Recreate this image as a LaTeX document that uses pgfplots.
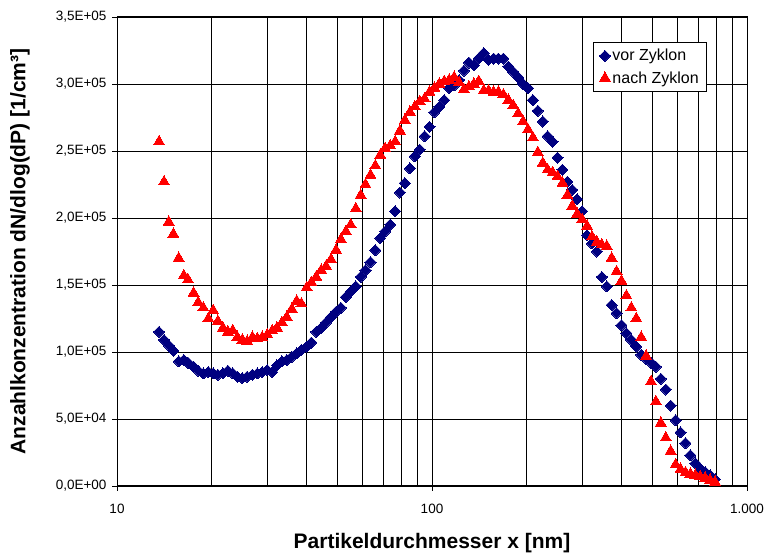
\documentclass[border=0pt]{standalone}
\usepackage{fontspec}
\setmainfont{Liberation Sans}
\usepackage{pgfplots}
\usepackage{pgfplotstable}
\pgfplotsset{compat=1.18}
\definecolor{vorc}{RGB}{0,0,128}
\definecolor{nachc}{RGB}{255,0,0}
\pgfplotstableread{
x vor nach
13.6 115000 257000
14.1 109000 227000
14.6 105000 197000
15.1 101000 188000
15.7 93000 170000
16.3 94000 157000
16.8 92000 154000
17.5 89000 144000
18.1 86000 137000
18.8 84000 133000
19.5 85000 125000
20.2 84000 131000
20.9 83000 123000
21.7 84000 118000
22.5 86000 115000
23.3 84000 116000
24.1 81500 111000
25.0 80500 109000
25.9 81500 108000
26.9 83000 111000
27.9 84000 110000
28.9 85000 111000
30.0 86500 113000
31.1 85000 116000
32.2 90000 118000
33.4 93000 122000
34.6 94000 126000
35.9 96500 132000
37.2 99000 138000
38.5 101500 136000
40.0 104000 148000
41.4 107000 152000
42.9 115000 156000
44.5 118000 161000
46.1 122000 164000
47.8 126000 169000
49.6 130000 176000
51.4 133000 184000
53.3 141000 190000
55.2 145000 195000
57.3 149000 207000
59.4 156000 217000
61.5 161000 225000
63.8 167000 232000
66.1 176000 239000
68.5 185000 247000
71.0 190000 252000
73.7 195000 254000
76.4 205000 257000
79.1 219000 265000
82.0 226000 273000
85.1 237000 279000
88.2 246000 283000
91.4 251000 287000
94.7 261000 289000
98.2 268000 294000
101.8 279000 297000
105.5 283000 300000
109.4 288000 302000
113.4 297000 303000
117.6 299000 305000
121.9 303000 301000
126.3 310000 296000
131.0 316000 298000
135.8 314000 300000
140.7 319000 302000
145.9 323000 295000
151.2 318000 295000
156.8 319000 294000
162.5 319000 294000
168.5 319000 292000
174.7 313000 288000
181.1 309000 284000
187.7 305000 278000
194.6 300000 272000
201.7 297000 266000
209.1 288000 260000
216.7 280000 249000
224.7 272000 241000
232.9 261000 236000
241.4 257000 234000
250.3 245000 231000
259.5 236000 226000
269.0 227000 217000
278.8 221000 209000
289.0 214000 203000
299.6 205000 199000
310.6 187000 194000
322.0 181000 186000
333.8 175000 182000
346.0 156000 180000
358.7 149000 179000
371.8 135000 170000
385.4 129000 160000
399.5 120000 153000
414.2 114000 142000
429.4 109000 133000
445.1 104000 125000
461.4 98000 111000
478.3 95000 97000
495.8 92000 78000
514.0 89000 63000
532.8 80000 47000
552.3 72000 36000
572.5 60000 26000
593.5 49000 16000
615.3 40000 12500
637.8 32000 10000
661.2 23000 9000
685.4 17000 8000
710.5 13000 7000
736.5 10500 6000
763.5 8000 4500
791.5 5000 3000
}\datatable
\begin{document}
\begin{tikzpicture}[x=1pt,y=1pt]
\path[use as bounding box] (-117,-70) rectangle (651,486);
\begin{semilogxaxis}[
 at={(0,0)}, anchor=south west,
 scale only axis, width=630pt, height=469pt,
 xmin=10, xmax=1000, ymin=0, ymax=350000,
 xtick={10,100,1000}, xticklabels={10,100,1.000},
 minor xtick={20,30,40,50,60,70,80,90,200,300,400,500,600,700,800,900},
 ytick={0,50000,100000,150000,200000,250000,300000,350000},
 yticklabels={{0,0E+00},{5,0E+04},{1,0E+05},{1,5E+05},{2,0E+05},{2,5E+05},{3,0E+05},{3,5E+05}},
 scaled y ticks=false,
 tick pos=left, tick align=outside, major tick length=5pt, minor tick length=0pt,
 xmajorgrids, xminorgrids, ymajorgrids,
 grid style={black, line width=0.8pt},
 minor grid style={black, line width=0.8pt},
 axis line style={black, line width=1pt},
 tick style={black, line width=0.8pt},
 ticklabel style={font=\fontsize{13.5}{15}\selectfont},
 yticklabel style={xshift=-2pt},
 xticklabel style={yshift=-10pt},
 xlabel={Partikeldurchmesser x [nm]},
 ylabel={Anzahlkonzentration dN/dlog(dP) [1/cm³]},
 label style={font=\bfseries\fontsize{21}{24}\selectfont},
 xlabel style={at={(axis description cs:0.5,-0.1215)}, anchor=center},
 ylabel style={at={(axis description cs:-0.154,0.5)}, anchor=center},
 legend style={at={(rel axis cs:0.7556,0.9467)}, anchor=north west, draw=black, line width=0.8pt,
   font=\fontsize{16}{18}\selectfont, inner xsep=6pt, inner ysep=5pt, row sep=5pt},
 legend cell align=left,
]
\addplot[only marks, mark=square*, mark size=3.9pt, mark options={rotate=45, fill=vorc, draw=vorc, line width=0pt}, color=vorc] table[x=x, y=vor] {\datatable};
\addlegendentry{vor Zyklon}
\addplot[only marks, mark=triangle*, mark size=6.3pt, mark options={fill=nachc, draw=nachc, line width=0pt}, color=nachc] table[x=x, y=nach] {\datatable};
\addlegendentry{nach Zyklon}
\end{semilogxaxis}
\end{tikzpicture}
\end{document}
